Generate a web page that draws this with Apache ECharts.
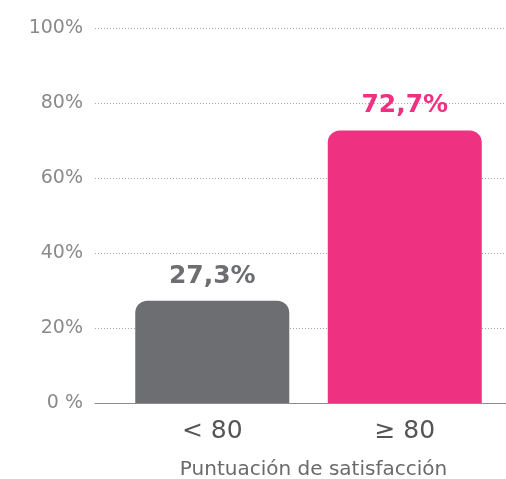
<!DOCTYPE html>
<html>
<head>
<meta charset="utf-8">
<style>
  html, body { margin: 0; padding: 0; background: #fff; }
  #chart { width: 506px; height: 479px; }
</style>
<script src="https://cdn.jsdelivr.net/npm/echarts@6/dist/echarts.min.js"></script>
</head>
<body>
<div id="chart"></div>
<script>
const categories = ['< 80', '≥ 80']
const values = [27.3, 72.7]
const barColors = ['#6d6e71', '#ee3181']
const axisTitle = 'Puntuación de satisfacción'

const FONT = '"DejaVu Sans", sans-serif'
const chart = echarts.init(document.getElementById('chart'))

// etiquetas con coma decimal
const fmtPct = v => v.toFixed(1).replace('.', ',') + '%'

const option = {
  animation: false,
  grid: [
    // fondo: líneas de la escala y eje
    { left: 95, right: 0, top: 28, bottom: 76, outerBoundsMode: 'none' },
    // barras
    { left: 116, right: 5, top: 28, bottom: 76, outerBoundsMode: 'none' }
  ],
  xAxis: [
    {
      type: 'value', gridIndex: 0, min: 0, max: 1,
      axisLabel: { show: false }, axisTick: { show: false }, splitLine: { show: false },
      axisLine: { show: true, lineStyle: { color: '#8c8c8c', width: 1 } }
    },
    {
      type: 'category', gridIndex: 1, data: categories,
      axisLine: { show: false }, axisTick: { show: false },
      axisLabel: { color: '#555', fontSize: 25, fontFamily: FONT, margin: 16 },
      name: axisTitle, nameLocation: 'middle', nameGap: 57,
      nameTextStyle: { color: '#6a6a6a', fontSize: 20, fontFamily: FONT, padding: [0, 0, 0, 10] }
    }
  ],
  yAxis: [
    {
      type: 'value', gridIndex: 0, min: 0, max: 100, interval: 20,
      axisLine: { show: false }, axisTick: { show: false },
      axisLabel: {
        color: '#8a8a8a', fontSize: 19, fontFamily: FONT, margin: 12,
        formatter: v => v === 0 ? '0 %' : v + '%'
      },
      splitLine: { lineStyle: { color: '#a6a6a6', type: [1, 2], width: 1 } }
    },
    {
      type: 'value', gridIndex: 1, min: 0, max: 100, interval: 20, show: false
    }
  ],
  series: [{
    type: 'bar',
    xAxisIndex: 1,
    yAxisIndex: 1,
    barWidth: 154,
    data: values.map((v, i) => ({
      value: v,
      itemStyle: { color: barColors[i], borderRadius: [12, 12, 0, 0] },
      label: { color: barColors[i] }
    })),
    label: {
      show: true,
      position: 'top',
      distance: 12,
      fontSize: 25,
      fontWeight: 'bold',
      fontFamily: FONT,
      formatter: p => fmtPct(p.value)
    }
  }]
}

chart.setOption(option)
</script>
</body>
</html>
